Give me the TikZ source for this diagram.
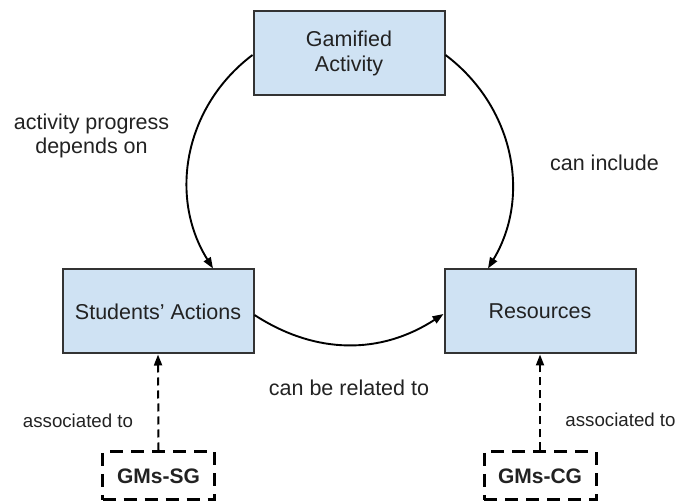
\documentclass[tikz,border=0pt]{standalone}
\usepackage{fontspec}
\setmainfont{Liberation Sans}
\usetikzlibrary{arrows.meta}
\definecolor{boxfill}{HTML}{CFE2F3}
\definecolor{boxline}{HTML}{333333}
\definecolor{ink}{HTML}{222222}
\begin{document}
\begin{tikzpicture}[x=1pt,y=1pt,
  every node/.style={text=ink},
  concept/.style={draw=boxline, line width=2pt, fill=boxfill,
    minimum width=191pt, minimum height=84pt, inner sep=0pt, align=center,
    font=\fontsize{21.5}{25}\selectfont},
  gmbox/.style={draw=black, line width=3pt, dash pattern=on 13pt off 8pt,
    minimum width=112pt, minimum height=48pt, inner sep=0pt,
    font=\fontsize{21}{25}\selectfont\bfseries},
  relation/.style={-{Triangle[length=11pt,width=8pt]}, line width=1.9pt, black},
  assoc/.style={-{Triangle[length=11pt,width=8pt]}, line width=2pt, black,
    dash pattern=on 8pt off 5pt},
  lbl/.style={font=\fontsize{21.5}{23.5}\selectfont, align=center},
  smalllbl/.style={font=\fontsize{18.7}{22}\selectfont}
]
\useasboundingbox (0,0) rectangle (676,502);

% main concepts
\node[concept] (GA) at (349,449) {Gamified\\Activity};
\node[concept] (SA) at (158,190.5) {Students' Actions};
\node[concept] (RS) at (540,190.5) {Resources};

% game mechanics groups
\node[gmbox] (SG) at (158.5,26) {GMs-SG};
\node[gmbox] (CG) at (540,26) {GMs-CG};

% relations between concepts
\draw[relation] ([yshift=-2pt]GA.west) to[out=217,in=122] ([xshift=55pt]SA.north);
\draw[relation] ([yshift=-2pt]GA.east) to[out=-37,in=59] ([xshift=-52pt]RS.north);
\draw[relation] ([yshift=-3.5pt]SA.east) to[out=-33,in=213] ([yshift=-2.5pt]RS.west);

% associations
\draw[assoc] (SG.north) -- (SA.south);
\draw[assoc] (CG.north) -- (RS.south);

% labels
\node[lbl, anchor=base] (l1) at (91.5,348.7) {activity progress\\depends on};
\node[lbl, anchor=base] (l2) at (604.5,331) {can include};
\node[lbl, anchor=base] (l3) at (349,106) {can be related to};
\node[smalllbl, anchor=base] (l4) at (78,74) {associated to};
\node[smalllbl, anchor=base] (l5) at (620.5,75) {associated to};
\end{tikzpicture}
\end{document}
